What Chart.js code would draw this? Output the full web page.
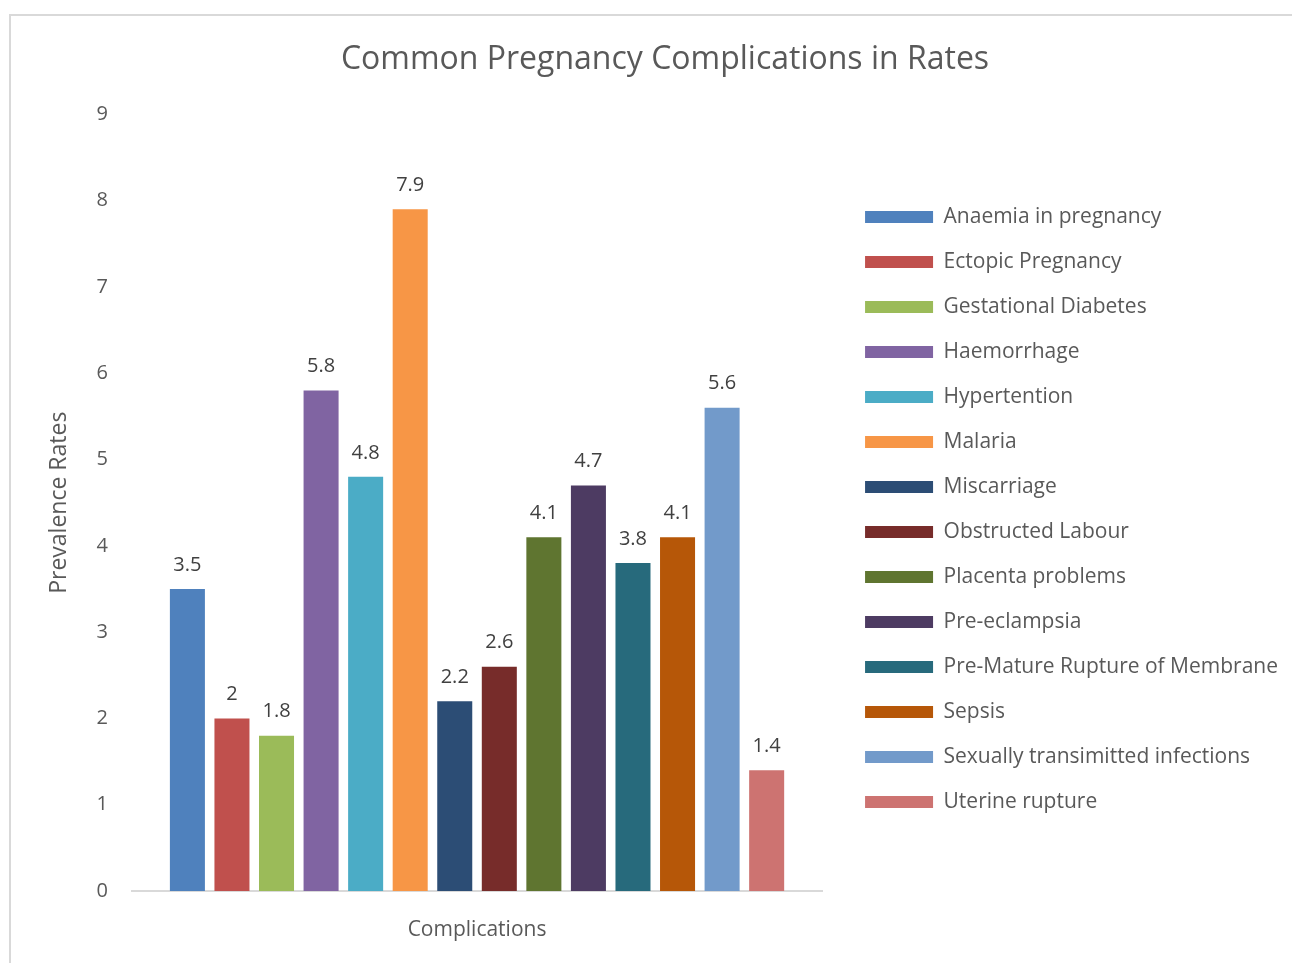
<!DOCTYPE html>
<html>
<head>
<meta charset="utf-8">
<title>Common Pregnancy Complications in Rates</title>
<script src="https://cdn.jsdelivr.net/npm/chart.js@4.4.1/dist/chart.umd.min.js"></script>
<style>
  html, body { margin: 0; padding: 0; background: #fff; overflow: hidden; }
  #frame {
    position: absolute; left: 9px; top: 14px; right: -10px; bottom: -10px;
    border-top: 2px solid #d9d9d9; border-left: 2px solid #d9d9d9;
  }
  #chart { position: absolute; left: 0; top: 0; }
</style>
</head>
<body>
<div id="frame"></div>
<canvas id="chart" width="1292" height="963"></canvas>
<script>
// chart data
var categories = ['Complications'];
var complications = [
    'Anaemia in pregnancy', 'Ectopic Pregnancy', 'Gestational Diabetes', 'Haemorrhage',
    'Hypertention', 'Malaria', 'Miscarriage', 'Obstructed Labour', 'Placenta problems',
    'Pre-eclampsia', 'Pre-Mature Rupture of Membrane', 'Sepsis',
    'Sexually transimitted infections', 'Uterine rupture'
];
var rates = [3.5, 2, 1.8, 5.8, 4.8, 7.9, 2.2, 2.6, 4.1, 4.7, 3.8, 4.1, 5.6, 1.4];
var barColors = [
    '#4f81bd', '#c0504d', '#9bbb59', '#8064a2', '#4bacc6', '#f79646', '#2c4d75',
    '#772c2a', '#5f7530', '#4d3b62', '#276a7c', '#b65708', '#729aca', '#cd7371'
];
var yTicks = [0, 1, 2, 3, 4, 5, 6, 7, 8, 9];

var FONT = '"Open Sans", "DejaVu Sans", sans-serif';

var datasets = complications.map(function (name, i) {
    return {
        label: name,
        data: [rates[i]],
        backgroundColor: barColors[i],
        borderWidth: 0,
        categoryPercentage: 0.904,
        barPercentage: 0.786
    };
});

// value printed above each bar
var barValues = {
    id: 'barValues',
    afterDatasetsDraw: function (chart) {
        var ctx = chart.ctx;
        ctx.save();
        ctx.font = '20px ' + FONT;
        ctx.fillStyle = '#404040';
        ctx.textAlign = 'center';
        ctx.textBaseline = 'middle';
        chart.data.datasets.forEach(function (ds, i) {
            var bar = chart.getDatasetMeta(i).data[0];
            ctx.fillText(String(ds.data[0]), bar.x, bar.y - 24);
        });
        ctx.restore();
    }
};

var ctx = document.getElementById('chart');

var myChart = new Chart(ctx, {
    type: 'bar',
    data: {
        labels: categories,
        datasets: datasets
    },
    plugins: [barValues],
    options: {
        responsive: false,
        animation: false,
        events: [],
        layout: {
            padding: { left: 42, right: 4, top: 0, bottom: 0 }
        },
        plugins: {
            title: {
                display: true,
                text: 'Common Pregnancy Complications in Rates',
                color: '#595959',
                font: { family: FONT, size: 32, weight: 'normal' },
                padding: { top: 41, bottom: 35 }
            },
            legend: {
                position: 'right',
                maxWidth: 520,
                // blank title only pushes the item column down a little
                title: {
                    display: true,
                    text: ' ',
                    font: { family: FONT, size: 10 },
                    padding: { top: 0, bottom: 44 }
                },
                labels: {
                    boxWidth: 68,
                    boxHeight: 12,
                    padding: 24,
                    color: '#595959',
                    font: { family: FONT, size: 21 }
                }
            },
            tooltip: { enabled: false }
        },
        scales: {
            x: {
                afterFit: function (scale) { scale.height = 72; },
                grid: { display: false, drawTicks: false },
                border: { display: true, color: '#d9d9d9', width: 2 },
                ticks: {
                    color: '#595959',
                    padding: 26,
                    font: { family: FONT, size: 21 }
                }
            },
            y: {
                min: 0,
                max: 9,
                afterFit: function (scale) { scale.width = 90; },
                afterBuildTicks: function (scale) {
                    scale.ticks = yTicks.map(function (v) { return { value: v }; });
                },
                grid: { display: false, drawTicks: false },
                border: { display: false },
                title: {
                    display: true,
                    text: 'Prevalence Rates',
                    color: '#595959',
                    font: { family: FONT, size: 23 },
                    padding: 4
                },
                ticks: {
                    color: '#595959',
                    padding: 24,
                    font: { family: FONT, size: 20 }
                }
            },
            // empty strip between the plot and the legend
            gap: {
                type: 'linear',
                position: 'right',
                min: 0,
                max: 1,
                afterFit: function (scale) { scale.width = 19; },
                grid: { display: false, drawTicks: false },
                border: { display: false },
                ticks: { display: false }
            }
        }
    }
});
</script>
</body>
</html>
